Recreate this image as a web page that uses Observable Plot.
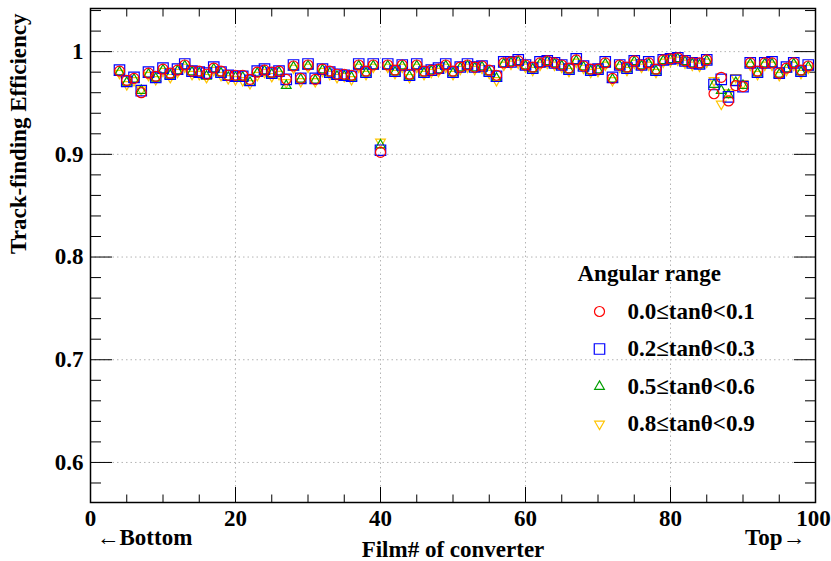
<!DOCTYPE html>
<html>
<head>
<meta charset="utf-8">
<script src="https://cdn.jsdelivr.net/npm/d3@7"></script>
<script src="https://cdn.jsdelivr.net/npm/@observablehq/plot@0.6"></script>
<style>
  body { margin: 0; background: #fff; }
  #chart { width: 831px; height: 561px; }
</style>
</head>
<body>
<div id="chart"></div>
<script>
// Film number of each converter layer
const films = [4, 5, 6, 7, 8, 9, 10, 11, 12, 13, 14, 15, 16, 17, 18, 19, 20, 21, 22, 23,
  24, 25, 26, 27, 28, 29, 30, 31, 32, 33, 34, 35, 36, 37, 38, 39, 40, 41, 42, 43,
  44, 45, 46, 47, 48, 49, 50, 51, 52, 53, 54, 55, 56, 57, 58, 59, 60, 61, 62, 63,
  64, 65, 66, 67, 68, 69, 70, 71, 72, 73, 74, 75, 76, 77, 78, 79, 80, 81, 82, 83,
  84, 85, 86, 87, 88, 89, 90, 91, 92, 93, 94, 95, 96, 97, 98, 99];

// Track-finding efficiency per film, one array per angular range
const eff00_01 = [0.981, 0.972, 0.974, 0.960, 0.979, 0.976, 0.983, 0.979, 0.982, 0.987,
  0.981, 0.981, 0.978, 0.984, 0.981, 0.977, 0.977, 0.977, 0.973, 0.980,
  0.982, 0.980, 0.981, 0.973, 0.986, 0.974, 0.987, 0.973, 0.983, 0.981,
  0.978, 0.978, 0.977, 0.987, 0.981, 0.987, 0.902, 0.987, 0.982, 0.987,
  0.978, 0.987, 0.981, 0.982, 0.983, 0.987, 0.981, 0.985, 0.987, 0.985,
  0.986, 0.982, 0.977, 0.989, 0.990, 0.991, 0.987, 0.985, 0.989, 0.991,
  0.989, 0.987, 0.984, 0.992, 0.986, 0.983, 0.983, 0.989, 0.974, 0.987,
  0.985, 0.991, 0.987, 0.989, 0.983, 0.992, 0.993, 0.994, 0.991, 0.989,
  0.989, 0.992, 0.959, 0.975, 0.952, 0.967, 0.966, 0.989, 0.981, 0.989,
  0.989, 0.979, 0.984, 0.989, 0.982, 0.986];

const eff02_03 = [0.982, 0.971, 0.975, 0.962, 0.980, 0.975, 0.984, 0.978, 0.983, 0.988,
  0.981, 0.980, 0.979, 0.985, 0.980, 0.977, 0.976, 0.976, 0.972, 0.981,
  0.983, 0.979, 0.981, 0.973, 0.987, 0.974, 0.988, 0.974, 0.983, 0.980,
  0.978, 0.977, 0.976, 0.988, 0.980, 0.988, 0.904, 0.988, 0.981, 0.987,
  0.977, 0.988, 0.980, 0.982, 0.984, 0.988, 0.980, 0.985, 0.988, 0.985,
  0.986, 0.981, 0.976, 0.990, 0.990, 0.992, 0.987, 0.984, 0.990, 0.991,
  0.989, 0.987, 0.983, 0.993, 0.986, 0.982, 0.983, 0.990, 0.975, 0.987,
  0.984, 0.991, 0.987, 0.990, 0.982, 0.992, 0.993, 0.994, 0.991, 0.989,
  0.988, 0.992, 0.968, 0.973, 0.956, 0.972, 0.966, 0.989, 0.980, 0.989,
  0.990, 0.979, 0.985, 0.989, 0.981, 0.987];

const eff05_06 = [0.980, 0.970, 0.973, 0.962, 0.978, 0.974, 0.982, 0.977, 0.981, 0.986,
  0.980, 0.979, 0.976, 0.983, 0.979, 0.975, 0.975, 0.975, 0.970, 0.979,
  0.981, 0.978, 0.980, 0.967, 0.985, 0.973, 0.986, 0.972, 0.982, 0.979,
  0.976, 0.976, 0.975, 0.986, 0.979, 0.986, 0.909, 0.986, 0.980, 0.986,
  0.976, 0.986, 0.979, 0.981, 0.982, 0.986, 0.979, 0.984, 0.986, 0.984,
  0.985, 0.980, 0.974, 0.988, 0.989, 0.990, 0.986, 0.983, 0.988, 0.990,
  0.988, 0.986, 0.982, 0.991, 0.985, 0.981, 0.982, 0.988, 0.973, 0.986,
  0.983, 0.990, 0.986, 0.988, 0.981, 0.991, 0.992, 0.993, 0.990, 0.988,
  0.987, 0.991, 0.968, 0.962, 0.958, 0.970, 0.967, 0.988, 0.979, 0.988,
  0.988, 0.978, 0.983, 0.988, 0.980, 0.985];

const eff08_09 = [0.979, 0.968, 0.972, 0.963, 0.977, 0.973, 0.981, 0.975, 0.980, 0.985,
  0.978, 0.978, 0.975, 0.982, 0.977, 0.974, 0.973, 0.972, 0.969, 0.977,
  0.980, 0.976, 0.978, 0.970, 0.984, 0.971, 0.985, 0.971, 0.981, 0.978,
  0.975, 0.976, 0.973, 0.985, 0.978, 0.985, 0.912, 0.985, 0.979, 0.985,
  0.975, 0.985, 0.978, 0.980, 0.981, 0.985, 0.978, 0.983, 0.985, 0.983,
  0.984, 0.979, 0.972, 0.987, 0.988, 0.989, 0.985, 0.982, 0.987, 0.989,
  0.987, 0.985, 0.981, 0.990, 0.984, 0.980, 0.981, 0.987, 0.972, 0.985,
  0.982, 0.989, 0.985, 0.987, 0.980, 0.990, 0.991, 0.992, 0.989, 0.987,
  0.986, 0.990, 0.972, 0.949, 0.960, 0.975, 0.969, 0.987, 0.978, 0.987,
  0.987, 0.977, 0.982, 0.987, 0.979, 0.984];

// Legend labels and marker colours
const rangeLabels = ["0.0\u2264tan\u03b8<0.1", "0.2\u2264tan\u03b8<0.3", "0.5\u2264tan\u03b8<0.6", "0.8\u2264tan\u03b8<0.9"];
const rangeColors = ["#ff0000", "#0000ff", "#009e00", "#ffc400"];

// Axis ticks
const xMajor = [0, 20, 40, 60, 80, 100];
const xMinor = [5, 10, 15, 25, 30, 35, 45, 50, 55, 65, 70, 75, 85, 90, 95];
const yMajor = [0.6, 0.7, 0.8, 0.9, 1.0];
const yMinor = [0.58, 0.62, 0.64, 0.66, 0.68, 0.72, 0.74, 0.76, 0.78, 0.82, 0.84, 0.86, 0.88,
  0.92, 0.94, 0.96, 0.98, 1.02, 1.04];

// Downward-pointing triangle, same area convention as d3.symbolTriangle
const sqrt3 = Math.sqrt(3);
const triangleDown = {
  draw(context, size) {
    const y = -Math.sqrt(size / (sqrt3 * 3));
    context.moveTo(0, -y * 2);
    context.lineTo(-sqrt3 * y, y);
    context.lineTo(sqrt3 * y, y);
    context.closePath();
  }
};

const series = [
  {values: eff00_01, symbol: "circle", r: 5},
  {values: eff02_03, symbol: "square", r: 5.9},
  {values: eff05_06, symbol: "triangle", r: 3.6},
  {values: eff08_09, symbol: triangleDown, r: 3.6}
].map((s, k) => ({...s, label: rangeLabels[k], color: rangeColors[k]}));

const rowsOf = (s) => films.map((film, i) => ({film, eff: s.values[i]}));

// Draw order: last range first so the circles end up on top
const dataMarks = series.slice().reverse().map(s =>
  Plot.dot(rowsOf(s), {
    x: "film", y: "eff", symbol: s.symbol, r: s.r,
    stroke: s.color, strokeWidth: 1.2, fill: "none"
  })
);

// Legend drawn inside the frame
const legendTop = 265, legendStep = 37.5;
const legendMarks = [
  Plot.text(["Angular range"], {frameAnchor: "top-left", dx: 487, dy: legendTop, textAnchor: "start", lineAnchor: "middle"}),
  ...series.flatMap((s, k) => [
    Plot.dot([s.label], {frameAnchor: "top-left", dx: 509, dy: legendTop + 38 + k * legendStep,
      symbol: s.symbol, r: s.r, stroke: s.color, strokeWidth: 1.2, fill: "none"}),
    Plot.text([s.label], {frameAnchor: "top-left", dx: 537, dy: legendTop + 38 + k * legendStep,
      textAnchor: "start", lineAnchor: "middle"})
  ])
];

const gridStyle = {stroke: "#b4b4b4", strokeOpacity: 1, strokeWidth: 1, strokeDasharray: "1.5,3"};
const tickStyle = {fill: "none", label: null, stroke: "black", strokeWidth: 1};

const chart = Plot.plot({
  width: 831,
  height: 561,
  marginLeft: 90,
  marginRight: 16,
  marginTop: 8,
  marginBottom: 59,
  x: {domain: [0, 100]},
  y: {domain: [0.561, 1.042]},
  style: {
    fontFamily: "'Liberation Serif', 'Times New Roman', serif",
    fontSize: "23px",
    fontWeight: "bold",
    background: "white",
    color: "black"
  },
  marks: [
    Plot.gridX(xMajor.slice(1, -1), gridStyle),
    Plot.gridY(yMajor, gridStyle),

    // inward ticks on all four sides
    Plot.axisX(xMajor, {anchor: "bottom", tickSize: -15, ...tickStyle}),
    Plot.axisX(xMinor, {anchor: "bottom", tickSize: -7.5, ...tickStyle}),
    Plot.axisX(xMajor, {anchor: "top", tickSize: -15, ...tickStyle}),
    Plot.axisX(xMinor, {anchor: "top", tickSize: -7.5, ...tickStyle}),
    Plot.axisY(yMajor, {anchor: "left", tickSize: -22, ...tickStyle}),
    Plot.axisY(yMinor, {anchor: "left", tickSize: -11, ...tickStyle}),
    Plot.axisY(yMajor, {anchor: "right", tickSize: -22, ...tickStyle}),
    Plot.axisY(yMinor, {anchor: "right", tickSize: -11, ...tickStyle}),

    // tick labels (the last x label is nudged in so it stays on the page)
    Plot.axisX(xMajor.slice(0, -1), {anchor: "bottom", tickSize: 0, tickPadding: 7, label: null, tickFormat: d => String(d)}),
    Plot.axisX(xMajor.slice(-1), {anchor: "bottom", tickSize: 0, tickPadding: 7, label: null, dx: -2, tickFormat: d => String(d)}),
    Plot.axisY(yMajor, {anchor: "left", tickSize: 0, tickPadding: 7, label: null, tickFormat: d => String(+d.toFixed(2))}),

    // axis titles and direction hints
    Plot.text(["Track-finding Efficiency"], {frameAnchor: "top-left", dx: -72, dy: 5, rotate: -90,
      textAnchor: "end", lineAnchor: "middle"}),
    Plot.text(["Film# of converter"], {frameAnchor: "bottom", dy: 47, lineAnchor: "middle"}),
    Plot.text(["\u2190Bottom"], {frameAnchor: "bottom-left", dx: 6, dy: 35, textAnchor: "start", lineAnchor: "middle"}),
    Plot.text(["Top\u2192"], {frameAnchor: "bottom-right", dx: -10, dy: 35, textAnchor: "end", lineAnchor: "middle"}),

    ...dataMarks,
    ...legendMarks,

    Plot.frame({stroke: "black", strokeWidth: 1.5})
  ]
});

document.getElementById("chart").append(chart);
</script>
</body>
</html>
